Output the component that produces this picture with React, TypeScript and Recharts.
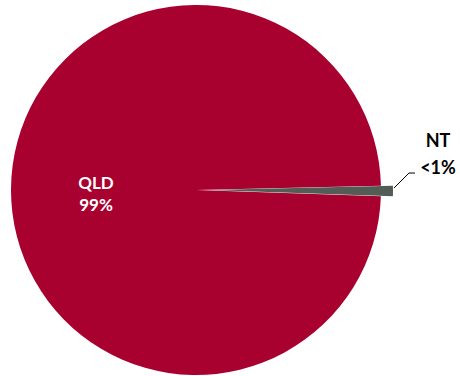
import React from 'react';
import { PieChart, Pie, Cell } from 'recharts';

// share of total by state
const regions = ['NT', 'QLD'];
const shares = [0.9, 99.1];
const shareLabels = ['<1%', '99%'];
const colors = ['#535D55', '#A8002F'];

const data = regions.map((name, i) => ({ name, value: shares[i], label: shareLabels[i] }));

const RADIAN = Math.PI / 180;
const FONT = 'Lato, "Open Sans", sans-serif';
const EXPLODE = 12; // px the NT slice is pulled out

// label for QLD, drawn inside the slice
const innerLabel = (props: any) => {
    const { cx, cy, index } = props;
    if (data[index].name !== 'QLD') return null;
    const x = cx - 100;
    return (
        <text x={x} y={cy} fill="#fff" textAnchor="middle" fontFamily={FONT} fontWeight={700} fontSize={17}>
            <tspan x={x} y={cy - 1}>{data[index].name}</tspan>
            <tspan x={x} y={cy + 21}>{data[index].label}</tspan>
        </text>
    );
};

// label for NT, outside with a leader line
const outerLabel = (props: any) => {
    const { cx, cy, midAngle, outerRadius, index } = props;
    if (data[index].name !== 'NT') return null;
    const ex = cx + (outerRadius + 1) * Math.cos(-midAngle * RADIAN);
    const ey = cy + (outerRadius + 1) * Math.sin(-midAngle * RADIAN) - 3;
    return (
        <g>
            <polyline
                points={`${ex},${ey} ${ex + 15},${ey - 15} ${ex + 21},${ey - 15}`}
                fill="none"
                stroke="#000"
                strokeWidth={1}
            />
            <text textAnchor="middle" fill="#000" fontFamily={FONT} fontWeight={700} fontSize={18}>
                <tspan x={ex + 44} y={ey - 41}>{data[index].name}</tspan>
                <tspan x={ex + 44} y={ey - 14}>{data[index].label}</tspan>
            </text>
        </g>
    );
};

export default function App() {
    // chart has a default 5px margin, so these are offset by 5
    const cx = 191;
    const cy = 185;
    return (
        <div style={{ position: 'absolute', left: 0, top: 0, background: '#fff' }}>
            <PieChart width={460} height={376}>
                {/* main pie, NT left empty */}
                <Pie
                    data={data}
                    dataKey="value"
                    cx={cx}
                    cy={cy}
                    outerRadius={185}
                    startAngle={1.3}
                    endAngle={-358.7}
                    stroke="none"
                    isAnimationActive={false}
                    labelLine={false}
                    label={innerLabel}
                >
                    {data.map((d, i) => (
                        <Cell key={`a-${i}`} fill={d.name === 'NT' ? 'transparent' : colors[i]} />
                    ))}
                </Pie>
                {/* exploded NT slice */}
                <Pie
                    data={data}
                    dataKey="value"
                    cx={cx + EXPLODE}
                    cy={cy}
                    outerRadius={185}
                    startAngle={1.3}
                    endAngle={-358.7}
                    stroke="none"
                    isAnimationActive={false}
                    labelLine={false}
                    label={outerLabel}
                >
                    {data.map((d, i) => (
                        <Cell key={`b-${i}`} fill={d.name === 'NT' ? colors[i] : 'transparent'} />
                    ))}
                </Pie>
            </PieChart>
        </div>
    );
}
